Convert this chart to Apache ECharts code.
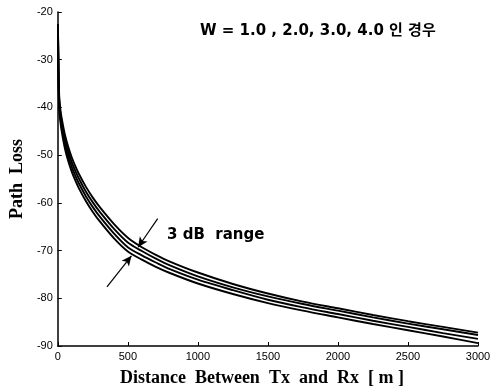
<!DOCTYPE html>
<html>
<head>
<meta charset="utf-8">
<script src="https://cdn.jsdelivr.net/npm/echarts@6/dist/echarts.min.js"></script>
<style>
html,body{margin:0;padding:0;background:#fff;}
#chart{width:496px;height:392px;}
</style>
</head>
<body>
<div id="chart"></div>
<script>
var distances = [1, 2, 5, 10, 20, 30, 50, 75, 100, 125, 150, 200, 250, 300, 400, 500, 600, 700, 800, 1000, 1250, 1500, 1750, 2000, 2250, 2500, 2750, 3000];
var lossW1 = [-22.5, -25, -31.5, -37.5, -40.8, -42.6, -45.6, -48.3, -50.5, -52.3, -53.9, -56.6, -58.9, -60.9, -64.4, -67.3, -69.3, -70.9, -72.3, -74.6, -77.0, -79.0, -80.7, -82.1, -83.5, -84.8, -86.0, -87.2];
var lossW2 = [-23, -25.5, -32.5, -38.5, -41.6, -43.5, -46.5, -49.3, -51.5, -53.3, -54.9, -57.6, -59.9, -61.9, -65.4, -68.3, -70.1, -71.7, -73.1, -75.4, -77.7, -79.6, -81.2, -82.6, -84.0, -85.3, -86.5, -87.7];
var lossW3 = [-23, -26, -33, -39.5, -42.5, -44.5, -47.5, -50.3, -52.5, -54.3, -55.9, -58.6, -60.9, -62.9, -66.4, -69.3, -71.0, -72.5, -73.9, -76.1, -78.3, -80.3, -81.9, -83.3, -84.7, -86.0, -87.3, -88.5];
var lossW4 = [-23.5, -26.5, -34, -40.5, -43.4, -45.4, -48.5, -51.3, -53.5, -55.3, -56.9, -59.6, -61.9, -63.9, -67.4, -70.2, -71.9, -73.4, -74.7, -76.9, -79.1, -81.0, -82.6, -84.0, -85.4, -86.7, -88.0, -89.4];
var seriesNames = ['W = 1.0', 'W = 2.0', 'W = 3.0', 'W = 4.0'];
var xTicks = [0, 500, 1000, 1500, 2000, 2500, 3000];
var yTicks = [-90, -80, -70, -60, -50, -40, -30, -20];
var titleText = 'W = 1.0 , 2.0, 3.0, 4.0 인 경우';
var rangeText = '3 dB  range';
var xName = 'Distance  Between  Tx  and  Rx  [ m ]';
var yName = 'Path  Loss';
// arrow annotation endpoints in data units [distance, loss]
var arrowUpper = [[713, -63.3], [573, -69.3]];
var arrowLower = [[351, -77.6], [526, -71.1]];

function pairs(vals) { return distances.map(function (d, i) { return [d, vals[i]]; }); }
var allVals = [lossW1, lossW2, lossW3, lossW4];

var series = allVals.map(function (v, i) {
  var s = {
    name: seriesNames[i], type: 'line', data: pairs(v), smooth: 0.3,
    showSymbol: false, lineStyle: { color: '#000', width: 1.9 }, z: 3
  };
  if (i === 0) {
    s.markLine = {
      silent: true, symbol: ['none', 'arrow'], symbolSize: [7, 10],
      lineStyle: { color: '#000', width: 1.2, type: 'solid' }, label: { show: false },
      data: [
        [{ coord: arrowUpper[0] }, { coord: arrowUpper[1] }],
        [{ coord: arrowLower[0] }, { coord: arrowLower[1] }]
      ]
    };
  }
  return s;
});

var chart = echarts.init(document.getElementById('chart'), null, { renderer: 'canvas' });
chart.setOption({
  animation: false,
  backgroundColor: '#fff',
  grid: { left: 50, right: 18, top: 12, bottom: 45, containLabel: false },
  xAxis: {
    type: 'value', min: xTicks[0], max: xTicks[xTicks.length - 1], interval: 500,
    name: xName, nameLocation: 'middle', nameGap: 23,
    nameTextStyle: { fontFamily: 'Liberation Serif', fontWeight: 'bold', fontSize: 18, color: '#000', padding: [0, 12, 0, 0] },
    axisLine: { lineStyle: { color: '#000', width: 1.5 } },
    axisTick: { inside: true, length: 4, lineStyle: { color: '#000' } },
    axisLabel: { fontFamily: 'Liberation Sans', fontSize: 11, color: '#000', margin: 5, formatter: function (v) { return String(v); } },
    splitLine: { show: false }
  },
  yAxis: {
    type: 'value', min: yTicks[0], max: yTicks[yTicks.length - 1], interval: 10,
    name: yName, nameLocation: 'middle', nameGap: 30, nameRotate: 90,
    nameTextStyle: { fontFamily: 'Liberation Serif', fontWeight: 'bold', fontSize: 18, color: '#000' },
    axisLine: { show: true, lineStyle: { color: '#000', width: 1.5 } },
    axisTick: { show: true, inside: true, length: 4, lineStyle: { color: '#000' } },
    axisLabel: { fontFamily: 'Liberation Sans', fontSize: 11, color: '#000', margin: 5, formatter: function (v) { return String(v); } },
    splitLine: { show: false }
  },
  graphic: [
    { type: 'text', left: 200, top: 24, style: { text: titleText, font: 'bold 15px "DejaVu Sans", "Noto Sans CJK KR", sans-serif', fill: '#000' } },
    { type: 'text', left: 167, top: 228, style: { text: rangeText, font: 'bold 15px "DejaVu Sans", sans-serif', fill: '#000' } }
  ],
  series: series
});
</script>
</body>
</html>
